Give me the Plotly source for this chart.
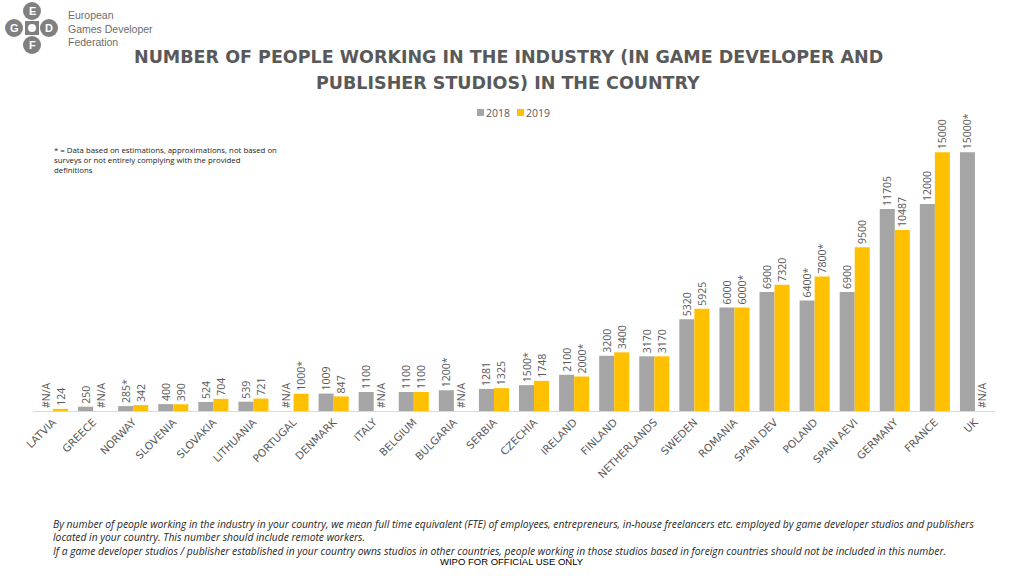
import plotly.graph_objects as go

categories = ["LATVIA", "GREECE", "NORWAY", "SLOVENIA", "SLOVAKIA", "LITHUANIA", "PORTUGAL",
              "DENMARK", "ITALY", "BELGIUM", "BULGARIA", "SERBIA", "CZECHIA", "IRELAND",
              "FINLAND", "NETHERLANDS", "SWEDEN", "ROMANIA", "SPAIN DEV", "POLAND",
              "SPAIN AEVI", "GERMANY", "FRANCE", "UK"]
values_2018 = [None, 250, 285, 400, 524, 539, None, 1009, 1100, 1100, 1200, 1281, 1500, 2100,
               3200, 3170, 5320, 6000, 6900, 6400, 6900, 11705, 12000, 15000]
values_2019 = [124, None, 342, 390, 704, 721, 1000, 847, None, 1100, None, 1325, 1748, 2000,
               3400, 3170, 5925, 6000, 7320, 7800, 9500, 10487, 15000, None]
labels_2018 = ["#N/A", "250", "285*", "400", "524", "539", "#N/A", "1009", "1100", "1100", "1200*",
               "1281", "1500*", "2100", "3200", "3170", "5320", "6000", "6900", "6400*", "6900",
               "11705", "12000", "15000*"]
labels_2019 = ["124", "#N/A", "342", "390", "704", "721", "1000*", "847", "#N/A", "1100", "#N/A",
               "1325", "1748", "2000*", "3400", "3170", "5925", "6000*", "7320", "7800*", "9500",
               "10487", "15000", "#N/A"]
series_names = ["2018", "2019"]

W, H = 1024, 576
L, R, T, B = 33, 995, 135, 411   # plot area in page pixels


def px(x):
    return (x - L) / (R - L)


def py(y):
    return (B - y) / (B - T)


GRAY = "#A5A5A5"
YELLOW = "#FFC000"
TXT = "#595959"
colors = [GRAY, YELLOW]

fig = go.Figure()
for name, vals, labs, col in [(series_names[0], values_2018, labels_2018, GRAY),
                              (series_names[1], values_2019, labels_2019, YELLOW)]:
    fig.add_trace(go.Bar(
        x=categories, y=[v if v is not None else 0 for v in vals], name=name,
        marker=dict(color=col, line=dict(width=0)),
        text=labs, textposition="outside", textangle=-90, constraintext="none",
        cliponaxis=False,
        textfont=dict(family="Open Sans", size=10.5, color=TXT),
        showlegend=False,
    ))


def ann(**kw):
    d = dict(xref="paper", yref="paper", showarrow=False)
    d.update(kw)
    return d


title_font = dict(family="DejaVu Sans", size=17.5, color=TXT)
annotations = [
    ann(text="<b>NUMBER OF PEOPLE WORKING IN THE INDUSTRY (IN GAME DEVELOPER AND</b>",
        x=px(508), y=py(57), xanchor="center", yanchor="middle", font=title_font),
    ann(text="<b>PUBLISHER STUDIOS) IN THE COUNTRY</b>",
        x=px(508), y=py(83), xanchor="center", yanchor="middle", font=title_font),
    ann(text="* = Data based on estimations, approximations, not based on<br>surveys or not entirely complying with the provided<br>definitions",
        x=px(52), y=py(143), xanchor="left", yanchor="top", align="left",
        font=dict(family="Open Sans", size=7.8, color="#222222")),
    ann(text="<i>By number of people working in the industry in your country, we mean full time equivalent (FTE) of employees, entrepreneurs, in-house freelancers etc. employed by game developer studios and publishers<br>located in your country. This number should include remote workers.<br>If a game developer studios / publisher established in your country owns studios in other countries, people working in those studios based in foreign countries should not be included in this number.</i>",
        x=px(51), y=py(515), xanchor="left", yanchor="top", align="left",
        font=dict(family="Open Sans", size=10.3, color="#262626")),
    ann(text="WIPO FOR OFFICIAL USE ONLY", x=px(512), y=py(561), xanchor="center", yanchor="middle",
        font=dict(family="Liberation Sans Narrow, Liberation Sans", size=9.5, color="#000000")),
    ann(text="European<br>Games Developer<br>Federation", x=px(66), y=py(7), xanchor="left", yanchor="top",
        align="left", font=dict(family="Liberation Sans", size=10.5, color="#6d6d6d")),
]

shapes = []
# custom legend
leg = [(477, 484), (517, 524)]
for (sx, tx), name, col in zip(leg, series_names, colors):
    shapes.append(dict(type="rect", xref="paper", yref="paper", x0=px(sx), x1=px(sx + 7),
                       y0=py(116), y1=py(109), fillcolor=col, line=dict(width=0)))
    annotations.append(ann(text=name, x=px(tx), y=py(112.5), xanchor="left", yanchor="middle",
                           font=dict(family="Open Sans", size=10.5, color=TXT)))

# logo
logo_col = "#808080"
cx0, cy0 = 32, 28
shapes.append(dict(type="rect", xref="paper", yref="paper", x0=px(cx0 - 7), x1=px(cx0 + 7),
                   y0=py(cy0 + 7), y1=py(cy0 - 7), fillcolor=logo_col, line=dict(width=0)))
for letter, (lx, ly) in {"E": (32, 11), "G": (14, 28), "D": (49, 28), "F": (32, 45)}.items():
    shapes.append(dict(type="circle", xref="paper", yref="paper", x0=px(lx - 9), x1=px(lx + 9),
                       y0=py(ly + 9), y1=py(ly - 9), fillcolor=logo_col, line=dict(width=0)))
    annotations.append(ann(text="<b>%s</b>" % letter, x=px(lx), y=py(ly), xanchor="center",
                           yanchor="middle",
                           font=dict(family="Liberation Sans", size=11, color="white")))
shapes.append(dict(type="circle", xref="paper", yref="paper", x0=px(cx0 - 4), x1=px(cx0 + 4),
                   y0=py(cy0 + 4), y1=py(cy0 - 4), fillcolor="white", line=dict(width=0)))

fig.update_layout(
    width=W, height=H,
    margin=dict(l=L, r=W - R, t=T, b=H - B, pad=0),
    paper_bgcolor="white", plot_bgcolor="white",
    barmode="group", bargap=0.25, bargroupgap=0,
    showlegend=False,
    xaxis=dict(tickangle=-45, tickfont=dict(family="DejaVu Sans", size=10.5, color=TXT),
               showline=True, linecolor="#D9D9D9", linewidth=1, ticks="", showgrid=False),
    yaxis=dict(range=[0, 16000], visible=False, showgrid=False, zeroline=False),
    annotations=annotations,
    shapes=shapes,
    uniformtext=dict(mode=False),
)

fig.write_html("out.html", config={"displayModeBar": False},
               post_script="document.body.style.margin='0';document.body.style.overflow='hidden';")
